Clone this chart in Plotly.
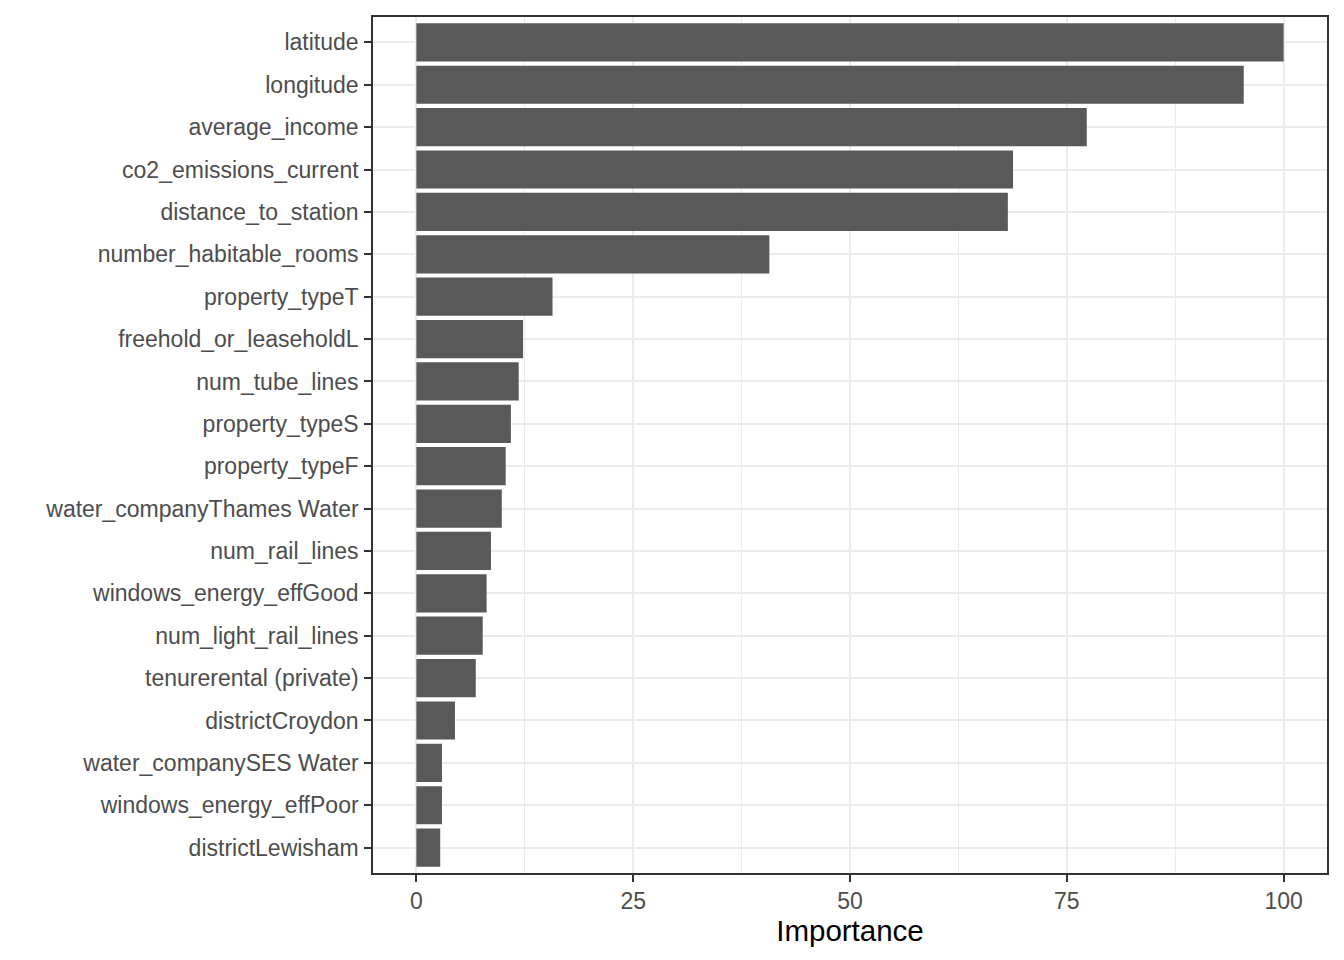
import plotly.graph_objects as go

features = [
    "latitude", "longitude", "average_income", "co2_emissions_current",
    "distance_to_station", "number_habitable_rooms", "property_typeT",
    "freehold_or_leaseholdL", "num_tube_lines", "property_typeS",
    "property_typeF", "water_companyThames Water", "num_rail_lines",
    "windows_energy_effGood", "num_light_rail_lines", "tenurerental (private)",
    "districtCroydon", "water_companySES Water", "windows_energy_effPoor",
    "districtLewisham",
]
importance = [
    100.0, 95.4, 77.3, 68.8, 68.2, 40.7, 15.7, 12.3, 11.8, 10.9,
    10.3, 9.85, 8.6, 8.1, 7.65, 6.85, 4.45, 2.95, 2.95, 2.75,
]
x_ticks = [0, 25, 50, 75, 100]
x_minor = [12.5, 37.5, 62.5, 87.5]

FONT = "Liberation Sans, Arial, sans-serif"

fig = go.Figure(
    go.Bar(
        x=importance,
        y=features,
        orientation="h",
        width=0.9,
        marker=dict(color="#595959", line=dict(width=0)),
        hoverinfo="x+y",
    )
)

# page body has an 8px margin, so the figure is sized/offset to compensate
fig.update_layout(
    width=1328,
    height=944,
    margin=dict(l=365, r=7, t=7, b=79),
    paper_bgcolor="white",
    plot_bgcolor="white",
    showlegend=False,
    bargap=0.1,
    font=dict(family=FONT, size=23, color="#4D4D4D"),
)

fig.update_xaxes(
    range=[-5, 105],
    tickvals=x_ticks,
    ticktext=[str(v) for v in x_ticks],
    showgrid=True,
    gridcolor="#EBEBEB",
    gridwidth=1.6,
    minor=dict(tickvals=x_minor, showgrid=True, gridcolor="#EBEBEB", gridwidth=1, ticks=""),
    zeroline=False,
    showline=True,
    linecolor="#333333",
    linewidth=1.6,
    mirror=True,
    ticks="outside",
    ticklen=7,
    tickwidth=1.6,
    tickcolor="#333333",
    tickfont=dict(family=FONT, size=23, color="#4D4D4D"),
    title=dict(text="Importance", font=dict(family=FONT, size=29.5, color="black"), standoff=4),
)

fig.update_yaxes(
    type="category",
    categoryorder="array",
    categoryarray=features,
    range=[len(features) - 0.4, -0.6],
    showgrid=True,
    gridcolor="#EBEBEB",
    gridwidth=1.6,
    zeroline=False,
    showline=True,
    linecolor="#333333",
    linewidth=1.6,
    mirror=True,
    ticks="outside",
    ticklen=7,
    tickwidth=1.6,
    tickcolor="#333333",
    ticklabelstandoff=1,
    tickfont=dict(family=FONT, size=23, color="#4D4D4D"),
)

fig.write_html("out.html")
